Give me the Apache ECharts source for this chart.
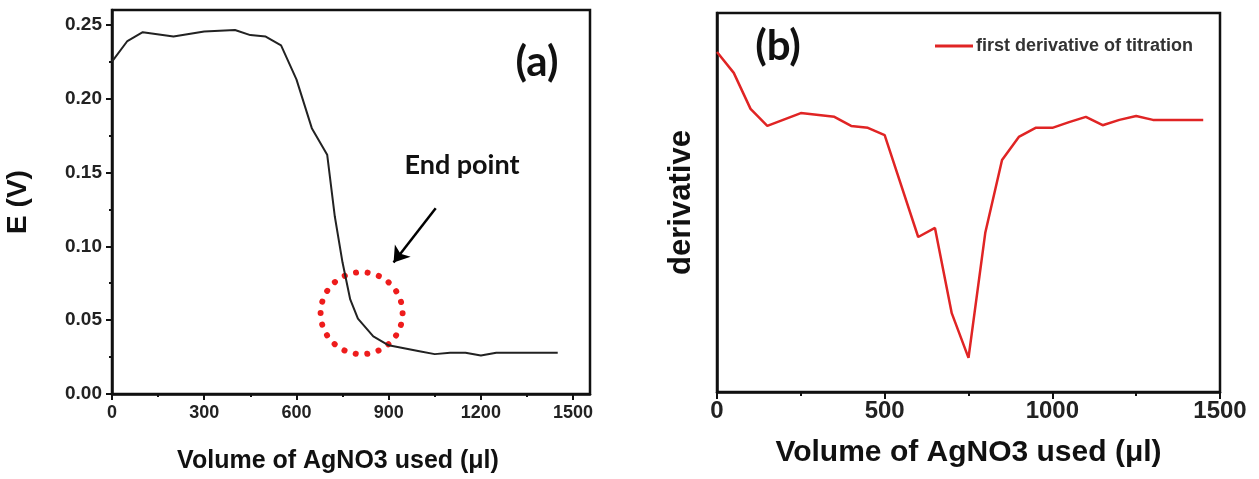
<!DOCTYPE html>
<html><head><meta charset="utf-8">
<script src="https://cdn.jsdelivr.net/npm/echarts@6/dist/echarts.min.js"></script>
<style>html,body{margin:0;padding:0;background:#fff}#c{width:1259px;height:479px}</style>
</head><body><div id="c"></div>
<script>
// ---- Panel (a): titration curve ----
const volA = [0, 50, 100, 200, 300, 400, 450, 500, 550, 600, 650, 700, 725, 750, 775, 800, 850, 900, 950, 1000, 1050, 1100, 1150, 1200, 1250, 1450];
const potA = [0.225, 0.239, 0.245, 0.242, 0.2455, 0.2465, 0.243, 0.242, 0.236, 0.213, 0.180, 0.162, 0.120, 0.089, 0.064, 0.051, 0.039, 0.033, 0.031, 0.029, 0.027, 0.028, 0.028, 0.026, 0.028, 0.028];
const ticksAx = [0, 300, 600, 900, 1200, 1500];
const minorAx = [150, 450, 750, 1050, 1350];
const ticksAy = [0, 0.05, 0.10, 0.15, 0.20, 0.25];
const minorAy = [0.025, 0.075, 0.125, 0.175, 0.225];
const endPointCenter = [812, 0.0547];
const arrowFrom = [1053, 0.1257];
const arrowTo = [916, 0.089];

// ---- Panel (b): first derivative ----
const volB = [0, 50, 100, 150, 250, 350, 400, 450, 500, 600, 650, 700, 750, 800, 850, 900, 950, 1000, 1050, 1100, 1150, 1200, 1250, 1300, 1450];
const derivB = [89.7, 84.2, 74.7, 70.2, 73.6, 72.6, 70.2, 69.7, 67.8, 40.9, 43.3, 20.8, 9.0, 42.0, 61.2, 67.3, 69.7, 69.7, 71.2, 72.6, 70.4, 71.8, 72.8, 71.8, 71.8];
const ticksBx = [0, 500, 1000, 1500];
const minorBx = [250, 750, 1250];

const xTitle = 'Volume of AgNO3 used (\u03BCl)';
const seriesBName = 'first derivative of titration';

const AX = '#111';
const FONT = 'Liberation Sans';

const chart = echarts.init(document.getElementById('c'), null, {renderer: 'canvas'});

function majorAxis(extra) {
  return Object.assign({
    type: 'value',
    axisLine: {show: true, onZero: false, lineStyle: {color: AX, width: 2.5}},
    splitLine: {show: false},
    nameLocation: 'middle',
  }, extra);
}
function minorAxis(extra) {
  return Object.assign({
    type: 'value',
    axisLine: {show: false},
    axisLabel: {show: false},
    splitLine: {show: false},
  }, extra);
}

const option = {
  animation: false,
  backgroundColor: '#fff',
  grid: [
    {left: 112, top: 10, width: 478, height: 384, show: true, borderColor: AX, borderWidth: 2.5, backgroundColor: 'transparent'},
    {left: 717, top: 13, width: 503, height: 379, show: true, borderColor: AX, borderWidth: 2.5, backgroundColor: 'transparent'}
  ],
  xAxis: [
    majorAxis({gridIndex: 0, position: 'bottom', min: 0, max: 1555,
      axisTick: {show: true, customValues: ticksAx, length: 6, lineStyle: {color: AX, width: 2}},
      axisLabel: {customValues: ticksAx, formatter: v => String(v), fontSize: 18, fontWeight: 'bold', fontFamily: FONT, color: '#222', margin: 10},
      name: xTitle, nameGap: 55,
      nameTextStyle: {fontSize: 25, fontWeight: 'bold', fontFamily: FONT, color: '#111', padding: [0, 26, 0, 0]}}),
    minorAxis({gridIndex: 0, position: 'bottom', min: 0, max: 1555,
      axisTick: {show: true, customValues: minorAx, length: 3, lineStyle: {color: AX, width: 2}}}),
    majorAxis({gridIndex: 1, position: 'bottom', min: 0, max: 1500,
      axisTick: {show: true, customValues: ticksBx, length: 7, lineStyle: {color: AX, width: 2}},
      axisLabel: {customValues: ticksBx, formatter: v => String(v), fontSize: 24, fontWeight: 'bold', fontFamily: FONT, color: '#222', margin: 7},
      name: xTitle, nameGap: 46,
      nameTextStyle: {fontSize: 30, fontWeight: 'bold', fontFamily: FONT, color: '#111'}}),
    minorAxis({gridIndex: 1, position: 'bottom', min: 0, max: 1500,
      axisTick: {show: true, customValues: minorBx, length: 4, lineStyle: {color: AX, width: 2}}})
  ],
  yAxis: [
    majorAxis({gridIndex: 0, position: 'left', min: 0, max: 0.26,
      axisTick: {show: true, customValues: ticksAy, length: 6, lineStyle: {color: AX, width: 2}},
      axisLabel: {customValues: ticksAy, formatter: v => v.toFixed(2), fontSize: 19, fontWeight: 'bold', fontFamily: FONT, color: '#222', margin: 10},
      name: 'E (V)', nameGap: 80,
      nameTextStyle: {fontSize: 28, fontWeight: 'bold', fontFamily: FONT, color: '#111'}}),
    minorAxis({gridIndex: 0, position: 'left', min: 0, max: 0.26,
      axisTick: {show: true, customValues: minorAy, length: 3, lineStyle: {color: AX, width: 2}}}),
    majorAxis({gridIndex: 1, position: 'left', min: 0, max: 100,
      axisTick: {show: false}, axisLabel: {show: false},
      name: 'derivative', nameGap: 20,
      nameTextStyle: {fontSize: 31, fontWeight: 'bold', fontFamily: FONT, color: '#111'}})
  ],
  legend: {
    data: [{name: seriesBName, icon: 'rect'}], left: 930, top: 32, itemWidth: 38, itemHeight: 3, itemGap: 4,
    textStyle: {fontSize: 18, fontWeight: 'bold', fontFamily: FONT, color: '#333', padding: [0, 0, 0, -2]}
  },
  graphic: [
    {type: 'text', x: 537, y: 62, style: {text: '(a)', font: 'bold 42px Lato', fill: '#111', align: 'center', verticalAlign: 'middle'}},
    {type: 'text', x: 778, y: 46, style: {text: '(b)', font: 'bold 42px Lato', fill: '#111', align: 'center', verticalAlign: 'middle'}},
    {type: 'text', x: 462, y: 165, style: {text: 'End point', font: 'bold 27px Lato', fill: '#111', align: 'center', verticalAlign: 'middle'}}
  ],
  series: [
    {
      type: 'line', xAxisIndex: 0, yAxisIndex: 0,
      data: volA.map((v, i) => [v, potA[i]]),
      symbol: 'none', lineStyle: {color: '#222', width: 2}, itemStyle: {color: '#222'},
      markLine: {
        silent: true, symbol: ['none', 'arrow'], symbolSize: 15,
        label: {show: false},
        lineStyle: {color: '#000', width: 2.5, type: 'solid'},
        data: [[{coord: arrowFrom}, {coord: arrowTo}]]
      }
    },
    {
      type: 'custom', xAxisIndex: 0, yAxisIndex: 0, silent: true,
      data: [endPointCenter],
      renderItem: function (params, api) {
        const p = api.coord([api.value(0), api.value(1)]);
        return {
          type: 'circle',
          shape: {cx: p[0], cy: p[1], r: 41},
          style: {fill: 'none', stroke: '#ee1c1c', lineWidth: 6, lineDash: [0.1, 11.6], lineCap: 'round'}
        };
      }
    },
    {
      name: seriesBName,
      type: 'line', xAxisIndex: 2, yAxisIndex: 2,
      data: volB.map((v, i) => [v, derivB[i]]),
      symbol: 'none', lineStyle: {color: '#e02424', width: 2.5}, itemStyle: {color: '#e02424'}
    }
  ]
};
chart.setOption(option);
</script>
</body></html>
